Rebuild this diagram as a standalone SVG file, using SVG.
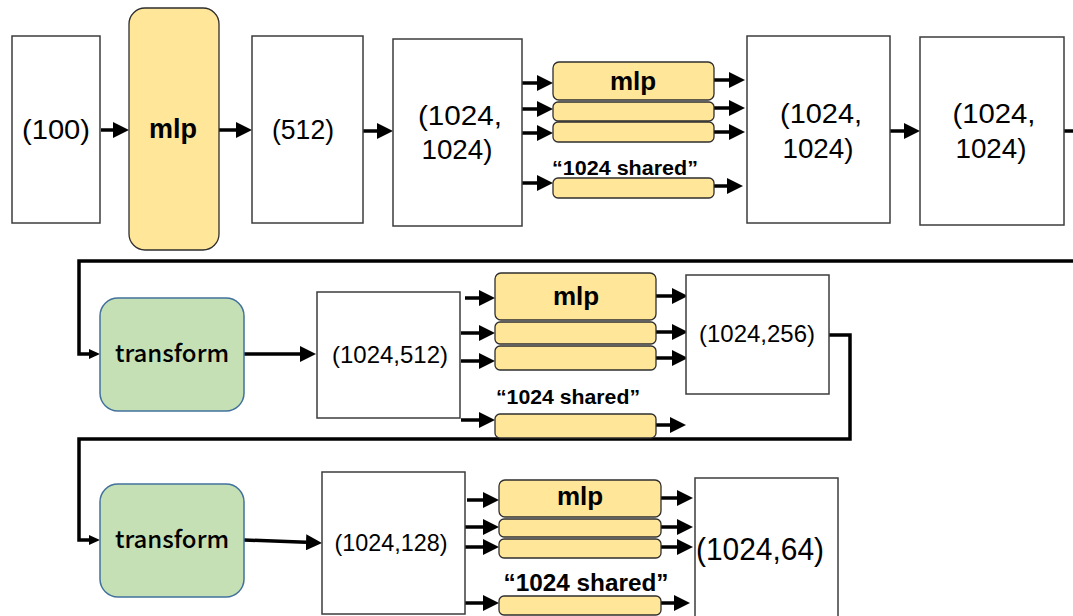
<svg xmlns="http://www.w3.org/2000/svg" width="1073" height="616" viewBox="0 0 1073 616">
<defs>
<style>
.box{fill:#ffffff;stroke:#3c3c3c;stroke-width:1.5}
.mlp{fill:#ffe699;stroke:#2e2e2e;stroke-width:1.3}
.tr{fill:#c5e0b4;stroke:#41719c;stroke-width:1.5}
.c{fill:none;stroke:#000;stroke-width:3.5}
.t{font-family:"Liberation Sans",Arial,sans-serif;fill:#000;text-anchor:middle}
.b{font-family:"Liberation Sans",Arial,sans-serif;font-weight:bold;fill:#000;text-anchor:middle}
.tf{font-family:"Noto Sans CJK JP","Noto Sans",sans-serif;font-weight:500;fill:#000;text-anchor:middle;font-size:24px}
</style>
<marker id="ah" markerUnits="userSpaceOnUse" markerWidth="16" markerHeight="16" viewBox="0 0 16 16" refX="0" refY="8" orient="auto"><path d="M0,0 L16,8 L0,16 z" fill="#000"/></marker>
<marker id="as" markerUnits="userSpaceOnUse" markerWidth="11" markerHeight="10" viewBox="0 0 11 10" refX="0" refY="5" orient="auto"><path d="M0,0 L11,5 L0,10 z" fill="#000"/></marker>
</defs>
<rect width="1073" height="616" fill="#ffffff"/>

<g id="connectors">
<path class="c" d="M101,130 H113" marker-end="url(#ah)"/>
<path class="c" d="M219,130 H236" marker-end="url(#ah)"/>
<path class="c" d="M363,131 H377" marker-end="url(#ah)"/>
<path class="c" d="M522,83 H537" marker-end="url(#ah)"/>
<path class="c" d="M520,109 H537" marker-end="url(#ah)"/>
<path class="c" d="M518,133 H537" marker-end="url(#ah)"/>
<path class="c" d="M520,183 H537" marker-end="url(#ah)"/>
<path class="c" d="M714,80 H729" marker-end="url(#ah)"/>
<path class="c" d="M714,108 H729" marker-end="url(#ah)"/>
<path class="c" d="M714,132 H729" marker-end="url(#ah)"/>
<path class="c" d="M712,186 H727" marker-end="url(#ah)"/>
<path class="c" d="M890,131 H904" marker-end="url(#ah)"/>
<path class="c" d="M1064,131 H1073"/>
<path class="c" d="M1073,261 H79 V354 H89" marker-end="url(#as)"/>

<path class="c" d="M244,354 H300" marker-end="url(#ah)"/>
<path class="c" d="M465,298 H479" marker-end="url(#ah)"/>
<path class="c" d="M461,333 H479" marker-end="url(#ah)"/>
<path class="c" d="M461,361 H479" marker-end="url(#ah)"/>
<path class="c" d="M461,420 H479" marker-end="url(#ah)"/>
<path class="c" d="M656,296 H672" marker-end="url(#ah)"/>
<path class="c" d="M656,332 H672" marker-end="url(#ah)"/>
<path class="c" d="M656,358 H672" marker-end="url(#ah)"/>
<path class="c" d="M652,425 H670" marker-end="url(#ah)"/>
<path class="c" d="M829,335 H850 V439 H79 V540 H89" marker-end="url(#as)"/>

<path class="c" d="M244,540 L306,542.3" marker-end="url(#ah)"/>
<path class="c" d="M467,500 H483" marker-end="url(#ah)"/>
<path class="c" d="M465,527 H483" marker-end="url(#ah)"/>
<path class="c" d="M465,547 H483" marker-end="url(#ah)"/>
<path class="c" d="M465,603 H483" marker-end="url(#ah)"/>
<path class="c" d="M661,498 H677" marker-end="url(#ah)"/>
<path class="c" d="M661,527 H677" marker-end="url(#ah)"/>
<path class="c" d="M661,547 H677" marker-end="url(#ah)"/>
<path class="c" d="M657,603 H674" marker-end="url(#ah)"/>
</g>

<g id="n100"><rect class="box" x="12" y="36" width="88" height="187"/><text class="t" x="56" y="139" font-size="27" textLength="68" lengthAdjust="spacingAndGlyphs">(100)</text></g>
<g id="mlp0"><rect class="mlp" x="129" y="8" width="90" height="242" rx="16"/><text class="b" x="173" y="138" font-size="27">mlp</text></g>
<g id="n512"><rect class="box" x="252" y="36" width="111" height="187"/><text class="t" x="303" y="139" font-size="27" textLength="62" lengthAdjust="spacingAndGlyphs">(512)</text></g>
<g id="n1024a"><rect class="box" x="393" y="39" width="129" height="187"/><text class="t" x="460" y="125" font-size="27" textLength="84" lengthAdjust="spacingAndGlyphs">(1024,</text><text class="t" x="457" y="159" font-size="27" textLength="71" lengthAdjust="spacingAndGlyphs">1024)</text></g>
<g id="mlp1">
<rect class="mlp" x="553" y="62" width="161" height="38" rx="6"/>
<rect class="mlp" x="553" y="102" width="161" height="19" rx="5"/>
<rect class="mlp" x="553" y="122" width="161" height="20" rx="5"/>
<text class="b" x="633" y="90" font-size="26">mlp</text>
</g>
<g id="shared1"><text class="b" x="625" y="175" font-size="20" textLength="146" lengthAdjust="spacingAndGlyphs">“1024 shared”</text><rect class="mlp" x="553" y="178" width="161" height="20" rx="5"/></g>
<g id="n1024b"><rect class="box" x="747" y="36" width="143" height="187"/><text class="t" x="821" y="123" font-size="27" textLength="82" lengthAdjust="spacingAndGlyphs">(1024,</text><text class="t" x="818" y="158" font-size="27" textLength="71" lengthAdjust="spacingAndGlyphs">1024)</text></g>
<g id="n1024c"><rect class="box" x="920" y="37" width="144" height="188"/><text class="t" x="994" y="123" font-size="27" textLength="83" lengthAdjust="spacingAndGlyphs">(1024,</text><text class="t" x="991" y="158" font-size="27" textLength="71" lengthAdjust="spacingAndGlyphs">1024)</text></g>

<g id="transform1"><rect class="tr" x="100" y="298" width="144" height="113" rx="18"/><text class="tf" x="172" y="362">transform</text></g>
<g id="n1024_512"><rect class="box" x="317" y="292" width="143" height="126"/><text class="t" x="390" y="363" font-size="24" textLength="116" lengthAdjust="spacingAndGlyphs">(1024,512)</text></g>
<g id="mlp2">
<rect class="mlp" x="495" y="273" width="161" height="47" rx="6"/>
<rect class="mlp" x="495" y="322" width="161" height="22" rx="5"/>
<rect class="mlp" x="495" y="346" width="161" height="24" rx="5"/>
<text class="b" x="576" y="305" font-size="26">mlp</text>
</g>
<g id="shared2"><text class="b" x="568" y="404" font-size="20" textLength="144" lengthAdjust="spacingAndGlyphs">“1024 shared”</text><rect class="mlp" x="495" y="414" width="161" height="24" rx="5"/></g>
<g id="n1024_256"><rect class="box" x="686" y="275" width="143" height="119"/><text class="t" x="757" y="342" font-size="24" textLength="116" lengthAdjust="spacingAndGlyphs">(1024,256)</text></g>

<g id="transform2"><rect class="tr" x="100" y="484" width="144" height="113" rx="18"/><text class="tf" x="172" y="548">transform</text></g>
<g id="n1024_128"><rect class="box" x="322" y="472" width="143" height="142"/><text class="t" x="391" y="551" font-size="24" textLength="113" lengthAdjust="spacingAndGlyphs">(1024,128)</text></g>
<g id="mlp3">
<rect class="mlp" x="499" y="480" width="162" height="37" rx="6"/>
<rect class="mlp" x="499" y="519" width="162" height="18" rx="5"/>
<rect class="mlp" x="499" y="539" width="162" height="19" rx="5"/>
<text class="b" x="580" y="505" font-size="26">mlp</text>
</g>
<g id="shared3"><text class="b" x="586" y="591" font-size="23" textLength="165" lengthAdjust="spacingAndGlyphs">“1024 shared”</text><rect class="mlp" x="499" y="596" width="162" height="19" rx="5"/></g>
<g id="n1024_64"><rect class="box" x="695" y="478" width="143" height="145"/><text class="t" x="760" y="560" font-size="31" textLength="128" lengthAdjust="spacingAndGlyphs">(1024,64)</text></g>
</svg>
